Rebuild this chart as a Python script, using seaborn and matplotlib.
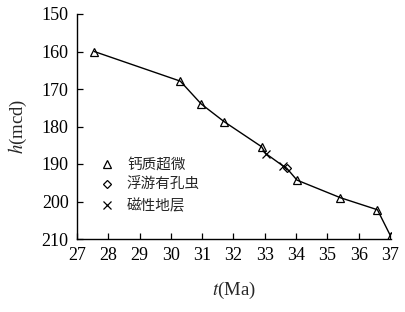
import matplotlib
matplotlib.use("Agg")
import matplotlib.pyplot as plt
import seaborn as sns
import pandas as pd

sns.set_style("ticks")
plt.rcParams['font.family'] = ['Liberation Serif', 'Noto Sans CJK SC', 'DejaVu Sans']
plt.rcParams['mathtext.fontset'] = 'stix'

tri_t = [27.55, 30.3, 30.97, 31.7, 32.9, 34.03, 35.42, 36.6, 37.02]
tri_h = [160.0, 167.9, 174.0, 178.7, 185.4, 194.3, 199.0, 202.2, 209.2]
cross_t = [33.03, 33.58]
cross_h = [187.2, 190.5]
dia_t = [33.7]
dia_h = [191.1]

labels = ["钙质超微", "浮游有孔虫", "磁性地层"]
xticks = list(range(27, 38))
yticks = list(range(150, 211, 10))

df = pd.DataFrame({
    "t": tri_t + dia_t + cross_t,
    "h": tri_h + dia_h + cross_h,
    "kind": [labels[0]] * len(tri_t) + [labels[1]] * len(dia_t) + [labels[2]] * len(cross_t),
}).sort_values("t")

fig = plt.figure(figsize=(4.06, 3.12), dpi=100)
ax = fig.add_axes([77/406, 1-239/312, (391.5-77)/406, (239-14)/312])

sns.lineplot(data=df, x="t", y="h", color="black", lw=1.0, ax=ax, sort=True, estimator=None)

mk = {labels[0]: "^", labels[1]: "D", labels[2]: "x"}
sz = {labels[0]: 6, labels[1]: 4.5, labels[2]: 6}
for lab in labels:
    sub = df[df["kind"] == lab]
    ax.plot(sub["t"], sub["h"], linestyle="none", marker=mk[lab], markersize=sz[lab],
            markerfacecolor="none", markeredgecolor="black", markeredgewidth=0.9, label=lab)

ax.set_xlim(27, 37.05)
ax.set_ylim(210, 150)
ax.set_xticks(xticks)
ax.set_yticks(yticks)
ax.tick_params(direction="in", length=4, width=0.9, labelsize=13, colors="black", pad=6)
for s in ["top", "right"]:
    ax.spines[s].set_visible(False)
for s in ["left", "bottom"]:
    ax.spines[s].set_linewidth(1.0)
    ax.spines[s].set_color("black")

ax.set_xlabel("$t$(Ma)", fontsize=13.5, labelpad=11)
ax.set_ylabel("$h$(mcd)", fontsize=13.5, labelpad=9)

handles, labs = ax.get_legend_handles_labels()
leg = ax.legend(handles[-3:], labs[-3:], loc="upper left", bbox_to_anchor=(0.029, 0.42),
                frameon=False, handlelength=1.0, handletextpad=0.9, labelspacing=0.45,
                prop={"family": ["Noto Sans CJK SC"], "size": 10.5})

fig.savefig("out.png", dpi=100)
